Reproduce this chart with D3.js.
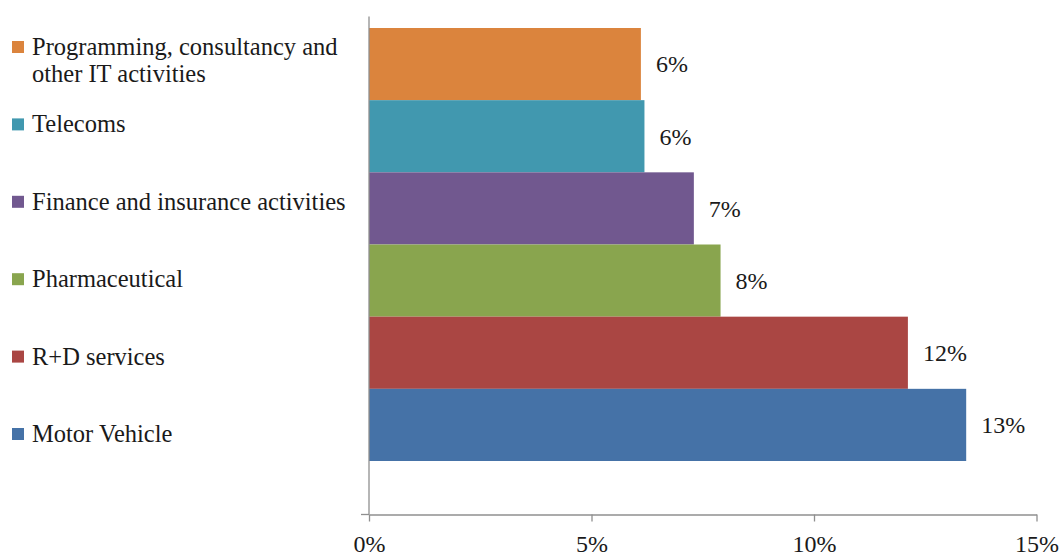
<!DOCTYPE html>
<html>
<head>
<meta charset="utf-8">
<script src="https://cdn.jsdelivr.net/npm/d3@7"></script>
<style>
  html, body { margin: 0; padding: 0; background: #fff; }
  svg { display: block; }
</style>
</head>
<body>
<svg id="chart" width="1062" height="554"></svg>
<script>
// ---- data ----
const categories = [
  "Programming, consultancy and other IT activities",
  "Telecoms",
  "Finance and insurance activities",
  "Pharmaceutical",
  "R+D services",
  "Motor Vehicle"
];
const legendLines = [
  ["Programming, consultancy and", "other IT activities"],
  ["Telecoms"],
  ["Finance and insurance activities"],
  ["Pharmaceutical"],
  ["R+D services"],
  ["Motor Vehicle"]
];
const values = [6.11, 6.19, 7.30, 7.90, 12.11, 13.42];
const colors = ["#DB843D", "#4198AF", "#71588F", "#89A54E", "#AA4643", "#4572A7"];
const xTicks = [0, 5, 10, 15];

// ---- layout ----
const FONT = '"Liberation Serif"';
const textColor = "#1a1a1a";
const svg = d3.select("#chart");
const plotTop = 16.5, plotBottom = 514.5;
const x = d3.scaleLinear().domain([0, 15]).range([369, 1036.5]);
const y = d3.scaleBand().domain(categories).range([28, 461]).paddingInner(0).paddingOuter(0);
const axisColor = "#8f8f8f";

// bars
svg.append("g").selectAll("rect")
  .data(categories)
  .join("rect")
  .attr("x", x(0))
  .attr("y", d => y(d))
  .attr("width", (d, i) => x(values[i]) - x(0))
  .attr("height", y.bandwidth())
  .attr("fill", (d, i) => colors[i]);

// value labels
svg.append("g").selectAll("text")
  .data(categories)
  .join("text")
  .attr("x", (d, i) => x(values[i]) + 15)
  .attr("y", d => y(d) + y.bandwidth() / 2)
  .attr("dy", "0.35em")
  .style("font-family", FONT)
  .style("font-size", "24px")
  .style("fill", textColor)
  .text((d, i) => Math.round(values[i]) + "%");

// x axis
const xAxis = d3.axisBottom(x)
  .tickValues(xTicks)
  .tickSize(7)
  .tickSizeOuter(0)
  .tickPadding(13)
  .tickFormat(d => d + "%");
const gx = svg.append("g")
  .attr("transform", `translate(0,${plotBottom})`)
  .call(xAxis)
  .attr("font-family", null)
  .attr("font-size", null);
gx.select(".domain").attr("stroke", axisColor).attr("stroke-width", 1.3);
gx.selectAll(".tick line").attr("stroke", axisColor).attr("stroke-width", 1.3);
gx.selectAll(".tick text")
  .style("font-family", FONT)
  .style("font-size", "24px")
  .style("fill", textColor);

// y axis line and bottom tick
svg.append("line")
  .attr("x1", x(0)).attr("x2", x(0))
  .attr("y1", plotTop).attr("y2", plotBottom)
  .attr("stroke", axisColor).attr("stroke-width", 1.3);
svg.append("line")
  .attr("x1", x(0) - 8).attr("x2", x(0))
  .attr("y1", plotBottom).attr("y2", plotBottom)
  .attr("stroke", axisColor).attr("stroke-width", 1.3);

// legend
const legendBase = 55, legendStep = 77.4;
const lg = svg.append("g").selectAll("g")
  .data(categories)
  .join("g")
  .attr("transform", (d, i) => `translate(0,${legendBase + i * legendStep})`);
lg.append("rect")
  .attr("x", 12).attr("y", -14)
  .attr("width", 12).attr("height", 12)
  .attr("fill", (d, i) => colors[i]);
lg.append("text")
  .attr("x", 32)
  .style("font-family", FONT)
  .style("font-size", "24.5px")
  .style("fill", textColor)
  .each(function(d, i) {
    d3.select(this).selectAll("tspan")
      .data(legendLines[i])
      .join("tspan")
      .attr("x", 32)
      .attr("dy", (t, j) => j === 0 ? 0 : 27)
      .text(t => t);
  });
</script>
</body>
</html>
